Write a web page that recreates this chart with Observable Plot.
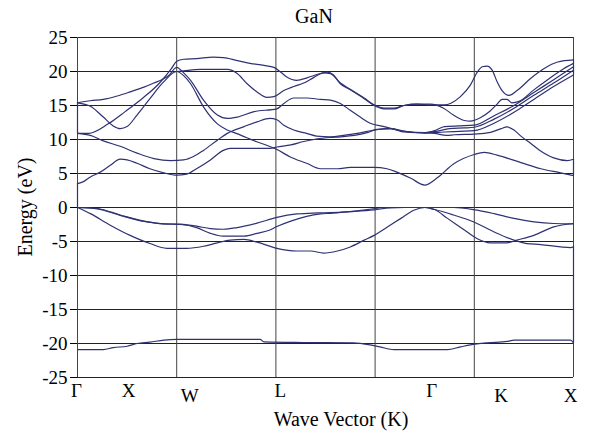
<!DOCTYPE html>
<html><head><meta charset="utf-8">
<script src="https://cdn.jsdelivr.net/npm/d3@7"></script>
<script src="https://cdn.jsdelivr.net/npm/@observablehq/plot@0.6"></script>
<style>
body{margin:0;background:#fff}
#wrap{position:relative;width:589px;height:434px}
#wrap svg{display:block;position:absolute;left:0;top:0}
.lab{position:absolute;font-family:'Liberation Serif',serif;font-size:20px;line-height:20px;color:#000;white-space:nowrap;transform:translate(-50%,-50%)}
#title{left:314px;top:16px}
#xlab{left:341px;top:419px}
#ylab{left:25px;top:207px;transform:translate(-50%,-50%) rotate(-90deg)}
</style>
</head><body><div id="wrap"><div id="chart"></div><div class="lab" id="title"></div><div class="lab" id="xlab"></div><div class="lab" id="ylab"></div></div>
<script>
// Energy bands of GaN, [wave-vector position, energy eV]
const bandTop = [[0,10.9],[0.11,10.9],[0.31,12.3],[0.48,14.1],[0.65,16.0],[0.82,18.2],[0.95,20.5],[1.0,21.5],[1.07,21.8],[1.2,21.9],[1.37,22.1],[1.47,22.05],[1.61,21.6],[1.74,21.2],[1.88,20.9],[1.98,20.6],[2.05,19.9],[2.11,19.2],[2.21,18.7],[2.32,19.1],[2.45,19.7],[2.52,19.9],[2.58,19.5],[2.65,18.2],[2.75,17.3],[2.89,16.0],[2.99,15.0],[3.09,14.5],[3.19,14.5],[3.29,15.0],[3.42,15.2],[3.56,15.1],[3.7,15.1],[3.76,15.3],[3.86,16.3],[3.96,18.0],[4.03,19.9],[4.08,20.7],[4.13,20.8],[4.18,20.2],[4.23,18.5],[4.28,17.2],[4.35,16.5],[4.43,17.2],[4.57,19.0],[4.70,20.4],[4.84,21.4],[5.0,21.7]];
const bandA = [[0,15.4],[0.13,15.7],[0.26,15.9],[0.4,16.4],[0.53,17.0],[0.67,17.7],[0.77,18.3],[0.85,18.8],[0.92,19.4],[1.0,20.6],[1.07,19.8],[1.14,18.7],[1.27,15.8],[1.41,13.6],[1.51,13.1],[1.61,13.3],[1.78,14.1],[2.01,14.5],[2.08,15.3],[2.18,16.1],[2.31,16.1],[2.45,15.9],[2.55,15.8],[2.65,15.3],[2.75,14.3],[2.85,13.3],[2.95,12.4],[3.09,11.9],[3.22,11.4],[3.36,11.1],[3.5,10.95],[3.7,11.1],[3.85,11.2],[4.0,11.3],[4.2,12.4],[4.4,14.0],[4.6,15.9],[4.8,17.8],[5.0,19.5]];
const bandFlat = [[1.0,20.0],[1.07,20.1],[1.24,20.3],[1.51,20.3],[1.61,19.7],[1.71,18.2],[1.81,17.0],[1.91,16.2],[1.98,16.3],[2.08,17.2],[2.18,17.8],[2.28,18.3],[2.38,19.1],[2.48,19.8],[2.55,19.7],[2.65,18.3],[2.75,17.4],[2.89,16.1],[2.99,15.1],[3.09,14.6],[3.19,14.6],[3.29,15.0],[3.42,15.2],[3.56,15.2],[3.69,14.6],[3.79,13.6],[3.90,12.8],[3.96,12.7],[4.06,13.2],[4.16,14.2],[4.23,15.2],[4.28,15.9],[4.33,15.9],[4.38,15.4],[4.45,15.6],[4.6,17.3],[4.75,18.9],[4.9,20.4],[5.0,21.2]];
const bandC3 = [[0,15.4],[0.13,14.9],[0.26,13.3],[0.36,12.0],[0.43,11.6],[0.5,11.9],[0.6,13.6],[0.73,16.0],[0.87,18.5],[1.0,20.0],[1.07,19.4],[1.14,18.2],[1.27,14.8],[1.41,12.3],[1.51,11.4],[1.6,10.9],[1.7,10.3],[1.8,9.7],[1.9,9.2],[2.0,8.6],[2.15,7.4],[2.31,6.5],[2.45,5.7],[2.62,5.7],[2.75,5.9],[2.99,5.9],[3.12,5.7],[3.22,5.2],[3.36,4.3],[3.5,3.3],[3.63,4.4],[3.79,6.4],[4.0,7.8],[4.1,8.1],[4.23,7.7],[4.47,6.6],[4.67,5.7],[4.87,5.1],[5.0,4.7]];
const bandC2 = [[0,10.9],[0.13,10.6],[0.26,9.8],[0.43,9.0],[0.6,8.0],[0.77,7.2],[0.94,6.9],[1.07,7.0],[1.17,7.5],[1.27,8.4],[1.41,9.9],[1.51,10.9],[1.68,11.9],[1.81,12.6],[1.94,13.1],[2.01,12.9],[2.08,12.1],[2.18,11.4],[2.31,10.9],[2.41,10.5],[2.55,10.4],[2.68,10.6],[2.82,10.9],[2.99,11.4],[3.16,11.6],[3.3,11.2],[3.5,11.0],[3.6,11.3],[3.7,11.9],[3.85,12.0],[4.0,12.1],[4.2,13.5],[4.4,15.0],[4.6,16.9],[4.8,18.8],[5.0,20.7]];
const bandC1 = [[0,3.5],[0.06,3.8],[0.13,4.5],[0.23,5.2],[0.33,6.2],[0.43,7.1],[0.5,7.0],[0.6,6.5],[0.73,5.7],[0.87,5.1],[1.0,4.75],[1.1,4.9],[1.2,5.7],[1.34,7.0],[1.47,8.4],[1.54,8.7],[1.94,8.7],[2.01,8.9],[2.15,9.2],[2.28,9.7],[2.42,10.1],[2.55,10.3],[2.65,10.4],[2.79,10.6],[2.92,11.0],[3.02,11.5],[3.16,11.6],[3.29,11.1],[3.42,11.0],[3.5,11.0],[3.6,10.9],[3.72,10.6],[3.8,10.7],[4.0,10.8],[4.15,11.0],[4.27,11.6],[4.33,11.85],[4.40,11.4],[4.47,10.5],[4.57,9.4],[4.65,8.5],[4.8,7.3],[4.94,6.9],[5.0,7.1]];
const bandS = [[3.5,11.0],[3.62,11.2],[3.75,11.6],[3.9,11.7],[4.0,11.8],[4.2,13.0],[4.4,14.6],[4.6,16.5],[4.8,18.3],[5.0,20.2]];
const bandV1 = [[0,0],[0.2,-0.15],[0.43,-1.1],[0.67,-2.0],[0.87,-2.4],[1.04,-2.45],[1.2,-2.75],[1.34,-3.1],[1.47,-3.2],[1.61,-2.95],[1.81,-2.3],[2.01,-1.45],[2.21,-0.95],[2.42,-0.8],[2.55,-0.75],[2.75,-0.6],[2.99,-0.35],[3.15,-0.05],[3.3,0],[3.5,0],[3.79,0],[3.99,-0.3],[4.2,-0.9],[4.4,-1.6],[4.6,-2.1],[4.8,-2.35],[5.0,-2.4]];
const bandV2 = [[0,0],[0.2,-0.2],[0.43,-1.15],[0.67,-2.05],[0.87,-2.4],[1.04,-2.5],[1.2,-2.95],[1.34,-3.8],[1.47,-4.2],[1.68,-4.2],[1.81,-3.8],[1.94,-3.3],[2.01,-2.8],[2.15,-2.0],[2.31,-1.3],[2.45,-0.95],[2.55,-0.85],[2.72,-0.65],[2.92,-0.3],[3.12,0],[3.5,0],[3.6,-0.3],[3.73,-1.6],[3.9,-3.3],[4.03,-4.6],[4.16,-5.2],[4.33,-5.2],[4.43,-4.8],[4.6,-4.1],[4.8,-2.85],[5.0,-2.35]];
const bandV3 = [[0,0],[0.13,-0.9],[0.33,-2.6],[0.53,-4.1],[0.73,-5.3],[0.9,-6.0],[1.1,-6.0],[1.27,-5.7],[1.41,-5.2],[1.54,-4.8],[1.68,-4.7],[1.81,-5.1],[2.01,-6.0],[2.21,-6.4],[2.35,-6.4],[2.48,-6.7],[2.62,-6.4],[2.75,-5.8],[2.89,-4.8],[2.99,-4.1],[3.12,-2.9],[3.26,-1.6],[3.39,-0.4],[3.5,0],[3.6,-0.3],[3.79,-1.1],[3.99,-2.1],[4.2,-3.6],[4.4,-4.8],[4.53,-5.3],[4.67,-5.45],[4.87,-5.8],[4.97,-5.9],[5.0,-5.8]];
const bandBottom = [[0,-20.9],[0.26,-20.9],[0.36,-20.6],[0.5,-20.4],[0.6,-20.0],[0.73,-19.8],[0.87,-19.5],[1.0,-19.4],[1.84,-19.4],[1.88,-19.75],[2.28,-19.85],[2.78,-19.9],[2.95,-20.2],[3.05,-20.5],[3.19,-20.9],[3.73,-20.9],[3.86,-20.5],[3.96,-20.2],[4.13,-19.9],[4.33,-19.7],[4.4,-19.5],[4.97,-19.5],[5.0,-19.9]];
// vertical joins at the path ends: [x, E from, E to]
const edgeLinks = [[0,0,3.5],[0,10.9,15.4],[5,4.7,7.1],[5,19.5,21.7],[5,-19.9,-5.8]];

const yTicks = [-25,-20,-15,-10,-5,0,5,10,15,20,25];
const xGrid = [0,1,2,3,4,5];
const kLabels = ["Γ","X","W","L","Γ","K","X"];
const kPos = [-0.01,0.515,1.13,2.045,3.57,4.27,4.97];
const titleText = "GaN";
const xTitle = "Wave Vector (K)";
const yTitle = "Energy (eV)";

document.getElementById("title").textContent = titleText;
document.getElementById("xlab").textContent = xTitle;
document.getElementById("ylab").textContent = yTitle;

const bands = {bandTop, bandA, bandFlat, bandC3, bandC2, bandC1, bandS, bandV1, bandV2, bandV3, bandBottom};
const rows = [];
for (const [name, pts] of Object.entries(bands)) for (const [x, e] of pts) rows.push({band: name, x, e});
const kRows = kLabels.map((t, i) => ({t, x: kPos[i], low: t === "W" || t === "K" || i === 6}));

const ink = "#2e3272";
const serifList = "Liberation Serif, Tinos, Times New Roman, Times, DejaVu Serif, Noto Serif, serif";
const chart = Plot.plot({
  width: 589, height: 434,
  marginLeft: 77, marginRight: 16, marginTop: 37, marginBottom: 57,
  style: "font-family: 'Liberation Serif', 'Times New Roman', serif; font-size: 19px; background: transparent; color: #000;",
  x: {domain: [0, 5], axis: null},
  y: {domain: [-25, 25], axis: null},
  marks: [
    Plot.ruleY(yTicks, {stroke: "#222", strokeWidth: 1}),
    Plot.ruleX(xGrid, {stroke: "#444", strokeWidth: 1}),
    Plot.axisY(yTicks, {tickSize: 7, tickPadding: 3, tickFormat: d => String(d), label: null, fontSize: 19, fontFamily: serifList}),
    Plot.line(rows, {x: "x", y: "e", z: "band", stroke: ink, strokeWidth: 1.2, curve: "monotone-x"}),
    Plot.ruleX(edgeLinks, {x: d => d[0], y1: d => d[1], y2: d => d[2], stroke: ink, strokeWidth: 1.2}),
    Plot.text(kRows.filter(d => !d.low), {x: "x", y: () => -25, text: "t", dy: 13, fontSize: 19, fontFamily: serifList}),
    Plot.text(kRows.filter(d => d.low), {x: "x", y: () => -25, text: "t", dy: 18.5, fontSize: 19, fontFamily: serifList})
  ]
});
chart.setAttribute("font-family", serifList);
chart.removeAttribute("font-variant");
document.getElementById("chart").appendChild(chart);
for (const t of chart.querySelectorAll("text, g")) {
  t.setAttribute("font-family", serifList);
  t.style.fontFamily = "'Liberation Serif', 'Times New Roman', serif";
  t.style.fontVariant = "normal";
}
</script>
</body></html>
